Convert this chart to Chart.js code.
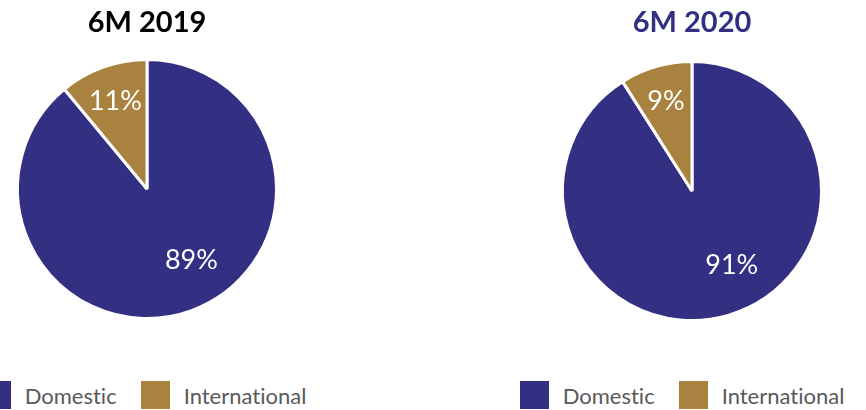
<!DOCTYPE html>
<html>
<head>
<meta charset="utf-8">
<title>Domestic vs international share</title>
<script src="https://cdn.jsdelivr.net/npm/chart.js@4.4.1/dist/chart.umd.min.js"></script>
<style>
  html, body { margin: 0; padding: 0; background: #fff; }
  body { width: 866px; height: 410px; position: relative; overflow: hidden; font-family: Lato, sans-serif; }
  .pie { position: absolute; top: 0; }
  .legend { position: absolute; top: 381px; width: 440px; display: flex; justify-content: center; }
  .legend-item { display: flex; align-items: center; margin: 0 12px; }
  .swatch { width: 29px; height: 28px; margin-right: 14px; }
  .legend-text { font-size: 22px; color: #595959; white-space: nowrap; font-variant-ligatures: none; font-feature-settings: "liga" 0, "clig" 0; }
</style>
</head>
<body>
<canvas id="pie2019" class="pie" width="300" height="330" style="left:-3px"></canvas>
<canvas id="pie2020" class="pie" width="300" height="330" style="left:542px"></canvas>
<div id="legend2019" class="legend" style="left:-76px"></div>
<div id="legend2020" class="legend" style="left:462px"></div>

<script>
const categories = ['Domestic', 'International'];
const periods = ['6M 2019', '6M 2020'];
const share2019 = [89, 11];
const share2020 = [91, 9];

const NAVY = '#333084';
const GOLD = '#A8823E';

// percent labels inside the slices, big slice nudged back a little like office charts do
const sliceLabels = {
    id: 'sliceLabels',
    afterDatasetsDraw(chart, args, opts) {
        const { ctx } = chart;
        const meta = chart.getDatasetMeta(0);
        const data = chart.data.datasets[0].data;
        const total = data.reduce((a, b) => a + b, 0);
        ctx.save();
        ctx.fillStyle = opts.color;
        ctx.font = opts.font;
        ctx.textAlign = 'center';
        ctx.textBaseline = 'middle';
        meta.data.forEach((arc, i) => {
            const { x, y, startAngle, endAngle, outerRadius } =
                arc.getProps(['x', 'y', 'startAngle', 'endAngle', 'outerRadius'], true);
            const big = data[i] / total > 0.5;
            const angle = (startAngle + endAngle) / 2 + (big ? opts.bigShift : 0) * Math.PI / 180;
            const r = outerRadius * (big ? opts.bigFactor : opts.smallFactor);
            ctx.fillText(data[i] + '%', x + Math.cos(angle) * r, y + Math.sin(angle) * r);
        });
        ctx.restore();
    }
};

function criarPizza(canvasId, legendId, titulo, corTitulo, valores, padTitulo) {
    const chart = new Chart(document.getElementById(canvasId), {
        type: 'pie',
        data: {
            labels: categories,
            datasets: [{
                data: valores,
                backgroundColor: [NAVY, GOLD],
                borderColor: '#ffffff',
                borderWidth: 3,
                hoverOffset: 0
            }]
        },
        options: {
            responsive: false,
            animation: false,
            events: [],
            layout: { padding: { bottom: padTitulo.layout } },
            plugins: {
                legend: { display: false },
                tooltip: { enabled: false },
                title: {
                    display: true,
                    text: titulo,
                    color: corTitulo,
                    font: { family: 'Lato', size: 29, weight: 'bold', lineHeight: 1.2 },
                    padding: { top: padTitulo.top, bottom: padTitulo.bottom }
                },
                sliceLabels: {
                    color: '#ffffff',
                    font: '27px Lato',
                    smallFactor: 0.72,
                    bigFactor: 0.65,
                    bigShift: -12
                }
            }
        },
        plugins: [sliceLabels]
    });

    // html legend built from the chart's own legend items
    const box = document.getElementById(legendId);
    chart.options.plugins.legend.labels.generateLabels(chart).forEach(item => {
        const el = document.createElement('div');
        el.className = 'legend-item';
        el.innerHTML = `<span class="swatch" style="background:${item.fillStyle}"></span>` +
            `<span class="legend-text">${item.text}</span>`;
        box.appendChild(el);
    });
    return chart;
}

criarPizza('pie2019', 'legend2019', periods[0], '#000000', share2019, { top: 5.6, bottom: 17.6, layout: 10 });
criarPizza('pie2020', 'legend2020', periods[1], NAVY, share2020, { top: 5.6, bottom: 19.6, layout: 8 });
</script>
</body>
</html>
